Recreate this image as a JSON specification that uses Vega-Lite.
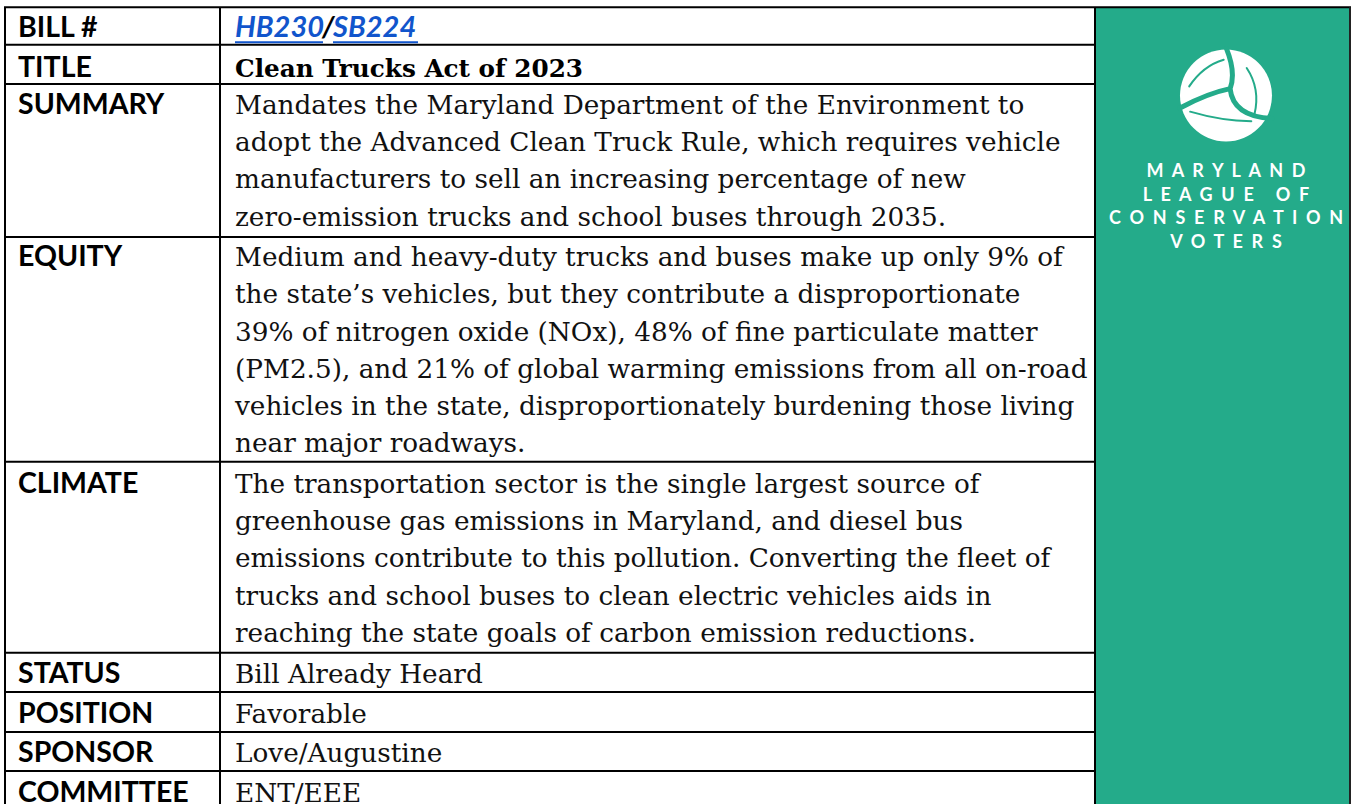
{
  "$schema": "https://vega.github.io/schema/vega-lite/v6.json",
  "width": 1352,
  "height": 804,
  "padding": 0,
  "autosize": {"type": "none"},
  "background": "white",
  "config": {"view": {"stroke": null}},
  "datasets": {
    "labels": [
      {"section": "BILL #", "line": 0},
      {"section": "TITLE", "line": 1.07},
      {"section": "SUMMARY", "line": 2.06},
      {"section": "EQUITY", "line": 6.14},
      {"section": "CLIMATE", "line": 12.23},
      {"section": "STATUS", "line": 17.32},
      {"section": "POSITION", "line": 18.39},
      {"section": "SPONSOR", "line": 19.44},
      {"section": "COMMITTEE", "line": 20.51}
    ],
    "title": [
      {"section": "TITLE", "line": 1.07, "text": "Clean Trucks Act of 2023"}
    ],
    "lines": [
      {"section": "SUMMARY", "line": 2.06, "text": "Mandates the Maryland Department of the Environment to"},
      {"section": "SUMMARY", "line": 3.06, "text": "adopt the Advanced Clean Truck Rule, which requires vehicle"},
      {"section": "SUMMARY", "line": 4.05, "text": "manufacturers to sell an increasing percentage of new"},
      {"section": "SUMMARY", "line": 5.07, "text": "zero-emission trucks and school buses through 2035."},
      {"section": "EQUITY", "line": 6.14, "text": "Medium and heavy-duty trucks and buses make up only 9% of"},
      {"section": "EQUITY", "line": 7.13, "text": "the state’s vehicles, but they contribute a disproportionate"},
      {"section": "EQUITY", "line": 8.15, "text": "39% of nitrogen oxide (NOx), 48% of fine particulate matter"},
      {"section": "EQUITY", "line": 9.14, "text": "(PM2.5), and 21% of global warming emissions from all on-road"},
      {"section": "EQUITY", "line": 10.13, "text": "vehicles in the state, disproportionately burdening those living"},
      {"section": "EQUITY", "line": 11.13, "text": "near major roadways."},
      {"section": "CLIMATE", "line": 12.23, "text": "The transportation sector is the single largest source of"},
      {"section": "CLIMATE", "line": 13.22, "text": "greenhouse gas emissions in Maryland, and diesel bus"},
      {"section": "CLIMATE", "line": 14.21, "text": "emissions contribute to this pollution. Converting the fleet of"},
      {"section": "CLIMATE", "line": 15.23, "text": "trucks and school buses to clean electric vehicles aids in"},
      {"section": "CLIMATE", "line": 16.22, "text": "reaching the state goals of carbon emission reductions."},
      {"section": "STATUS", "line": 17.32, "text": "Bill Already Heard"},
      {"section": "POSITION", "line": 18.39, "text": "Favorable"},
      {"section": "SPONSOR", "line": 19.44, "text": "Love/Augustine"},
      {"section": "COMMITTEE", "line": 20.51, "text": "ENT/EEE"}
    ],
    "edges": [
      {"edge": 0.21}, {"edge": 1.26}, {"edge": 5.36}, {"edge": 11.39},
      {"edge": 16.51}, {"edge": 17.56}, {"edge": 18.63}, {"edge": 19.68}
    ],
    "frame": [{"top": -0.8, "bottom": 20.563}],
    "bill": [{"bill": "HB230/SB224", "line": 0, "underline": 0.14}],
    "logo": [{"org": "Maryland League of Conservation Voters", "line": 1.57}],
    "logotext": [
      {"text": "M\u00a0\u00a0A\u00a0\u00a0R\u00a0\u00a0Y\u00a0\u00a0L\u00a0\u00a0A\u00a0\u00a0N\u00a0\u00a0D", "line": 3.75},
      {"text": "L\u00a0\u00a0E\u00a0\u00a0A\u00a0\u00a0G\u00a0\u00a0U\u00a0\u00a0E\u00a0\u00a0\u00a0\u00a0\u00a0O\u00a0\u00a0F", "line": 4.39},
      {"text": "C\u00a0\u00a0O\u00a0\u00a0N\u00a0\u00a0S\u00a0\u00a0E\u00a0\u00a0R\u00a0\u00a0V\u00a0\u00a0A\u00a0\u00a0T\u00a0\u00a0I\u00a0\u00a0O\u00a0\u00a0N", "line": 5.02},
      {"text": "V\u00a0\u00a0O\u00a0\u00a0T\u00a0\u00a0E\u00a0\u00a0R\u00a0\u00a0S", "line": 5.66}
    ]
  },
  "layer": [
    {
      "data": {"name": "frame"},
      "mark": {"type": "rect", "color": "#24AB8A"},
      "encoding": {
        "x": {"datum": 1095, "type": "quantitative", "scale": {"domain": [0, 1352], "nice": false, "zero": false}, "axis": null},
        "x2": {"datum": 1350},
        "y": {"field": "top", "type": "quantitative", "scale": {"domain": [-0.992, 20.563], "reverse": true, "nice": false, "zero": false}, "axis": null},
        "y2": {"field": "bottom"}
      }
    },
    {
      "data": {"name": "edges"},
      "mark": {"type": "rule", "color": "#000", "strokeWidth": 2},
      "encoding": {
        "x": {"datum": 5, "type": "quantitative"},
        "x2": {"datum": 1095},
        "y": {"field": "edge", "type": "quantitative"}
      }
    },
    {
      "data": {"name": "frame"},
      "mark": {"type": "rule", "color": "#000", "strokeWidth": 2},
      "encoding": {
        "x": {"datum": 4, "type": "quantitative"},
        "x2": {"datum": 1351},
        "y": {"field": "top", "type": "quantitative"}
      }
    },
    {
      "data": {"name": "frame"},
      "mark": {"type": "rule", "color": "#000", "strokeWidth": 2},
      "encoding": {
        "x": {"datum": 5, "type": "quantitative"},
        "y": {"field": "top", "type": "quantitative"},
        "y2": {"field": "bottom"}
      }
    },
    {
      "data": {"name": "frame"},
      "mark": {"type": "rule", "color": "#000", "strokeWidth": 2},
      "encoding": {
        "x": {"datum": 220, "type": "quantitative"},
        "y": {"field": "top", "type": "quantitative"},
        "y2": {"field": "bottom"}
      }
    },
    {
      "data": {"name": "frame"},
      "mark": {"type": "rule", "color": "#000", "strokeWidth": 2},
      "encoding": {
        "x": {"datum": 1095, "type": "quantitative"},
        "y": {"field": "top", "type": "quantitative"},
        "y2": {"field": "bottom"}
      }
    },
    {
      "data": {"name": "frame"},
      "mark": {"type": "rule", "color": "#222", "strokeWidth": 2},
      "encoding": {
        "x": {"datum": 1350, "type": "quantitative"},
        "y": {"field": "top", "type": "quantitative"},
        "y2": {"field": "bottom"}
      }
    },
    {
      "data": {"name": "labels"},
      "mark": {"type": "text", "align": "left", "baseline": "alphabetic", "font": "Lato", "fontWeight": "bold", "fontSize": 28.5, "color": "#000"},
      "encoding": {
        "x": {"datum": 18, "type": "quantitative"},
        "y": {"field": "line", "type": "quantitative"},
        "text": {"field": "section"}
      }
    },
    {
      "data": {"name": "lines"},
      "mark": {"type": "text", "align": "left", "baseline": "alphabetic", "font": "DejaVu Serif", "fontSize": 26.3, "color": "#111"},
      "encoding": {
        "x": {"datum": 235, "type": "quantitative"},
        "y": {"field": "line", "type": "quantitative"},
        "text": {"field": "text"}
      }
    },
    {
      "data": {"name": "title"},
      "mark": {"type": "text", "align": "left", "baseline": "alphabetic", "font": "DejaVu Serif", "fontWeight": "bold", "fontSize": 24.7, "color": "#000"},
      "encoding": {
        "x": {"datum": 235, "type": "quantitative"},
        "y": {"field": "line", "type": "quantitative"},
        "text": {"field": "text"}
      }
    },
    {
      "data": {"name": "bill"},
      "mark": {"type": "text", "align": "left", "baseline": "alphabetic", "font": "Lato", "fontWeight": "bold", "fontStyle": "italic", "fontSize": 29, "color": "#1155CC"},
      "encoding": {
        "x": {"datum": 235, "type": "quantitative"},
        "y": {"field": "line", "type": "quantitative"},
        "text": {"value": "HB230"}
      }
    },
    {
      "data": {"name": "bill"},
      "mark": {"type": "text", "align": "left", "baseline": "alphabetic", "font": "Lato", "fontWeight": "bold", "fontStyle": "italic", "fontSize": 29, "color": "#000"},
      "encoding": {
        "x": {"datum": 322, "type": "quantitative"},
        "y": {"field": "line", "type": "quantitative"},
        "text": {"value": "/"}
      }
    },
    {
      "data": {"name": "bill"},
      "mark": {"type": "text", "align": "left", "baseline": "alphabetic", "font": "Lato", "fontWeight": "bold", "fontStyle": "italic", "fontSize": 29, "color": "#1155CC"},
      "encoding": {
        "x": {"datum": 333, "type": "quantitative"},
        "y": {"field": "line", "type": "quantitative"},
        "text": {"value": "SB224"}
      }
    },
    {
      "data": {"name": "bill"},
      "mark": {"type": "rule", "color": "#1155CC", "strokeWidth": 2},
      "encoding": {
        "x": {"datum": 235, "type": "quantitative"},
        "x2": {"datum": 323},
        "y": {"field": "underline", "type": "quantitative"}
      }
    },
    {
      "data": {"name": "bill"},
      "mark": {"type": "rule", "color": "#1155CC", "strokeWidth": 2},
      "encoding": {
        "x": {"datum": 333, "type": "quantitative"},
        "x2": {"datum": 418},
        "y": {"field": "underline", "type": "quantitative"}
      }
    },
    {
      "data": {"name": "logo"},
      "mark": {"type": "point", "shape": "circle", "filled": true, "color": "white", "opacity": 1, "size": 8464},
      "encoding": {
        "x": {"datum": 1226, "type": "quantitative"},
        "y": {"field": "line", "type": "quantitative"}
      }
    },
    {
      "data": {"name": "logo"},
      "mark": {"type": "point", "shape": "M 0.01 -1.02 Q 0.22 -0.5 0.09 -0.15 M -1.0 0.27 Q -0.4 -0.05 0.09 -0.15 M 0.09 -0.15 Q 0.15 0.45 1.0 0.5", "filled": false, "stroke": "#24AB8A", "strokeWidth": 5, "strokeCap": "round", "opacity": 1, "size": 8464},
      "encoding": {
        "x": {"datum": 1226, "type": "quantitative"},
        "y": {"field": "line", "type": "quantitative"}
      }
    },
    {
      "data": {"name": "logo"},
      "mark": {"type": "point", "shape": "M -0.8 -0.2 Q -0.5 -0.65 -0.05 -0.78 M 0.45 -0.6 Q 0.75 -0.15 0.62 0.4 M -0.78 0.35 Q -0.1 0.55 0.55 0.56", "filled": false, "stroke": "#24AB8A", "strokeWidth": 2, "strokeCap": "round", "opacity": 1, "size": 8464},
      "encoding": {
        "x": {"datum": 1226, "type": "quantitative"},
        "y": {"field": "line", "type": "quantitative"}
      }
    },
    {
      "data": {"name": "logotext"},
      "mark": {"type": "text", "align": "center", "baseline": "alphabetic", "font": "Lato", "fontWeight": "bold", "fontSize": 18, "color": "white"},
      "encoding": {
        "x": {"datum": 1226, "type": "quantitative"},
        "y": {"field": "line", "type": "quantitative"},
        "text": {"field": "text"}
      }
    }
  ]
}
